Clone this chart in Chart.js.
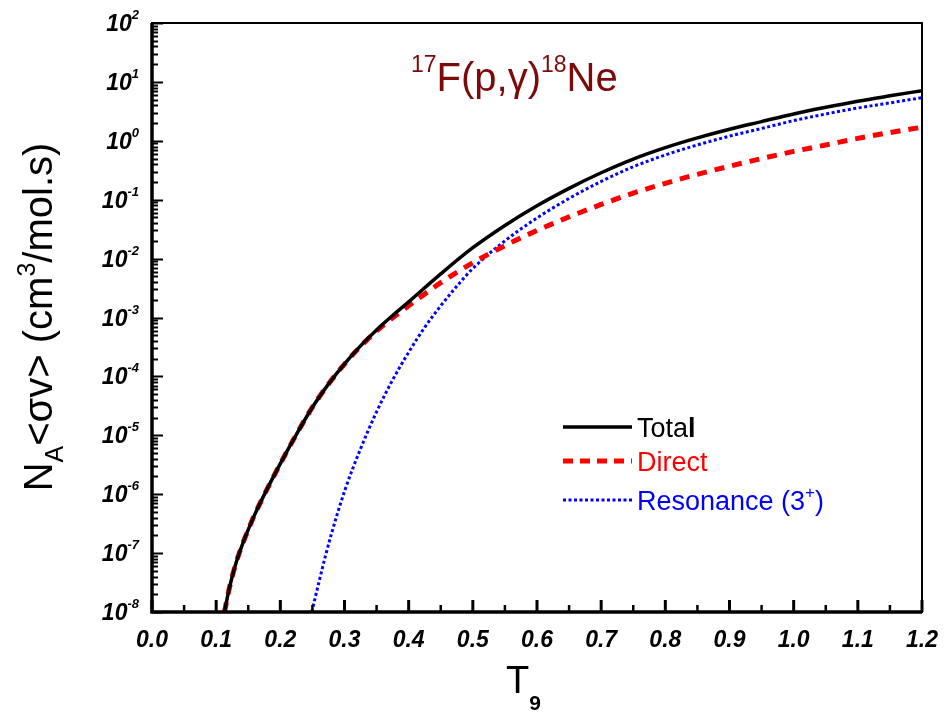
<!DOCTYPE html>
<html>
<head>
<meta charset="utf-8">
<script src="https://cdn.jsdelivr.net/npm/chart.js@4/dist/chart.umd.min.js"></script>
<style>
  html, body { margin: 0; padding: 0; background: #fff; }
  canvas { display: block; }
</style>
</head>
<body>
<canvas id="rateChart" width="945" height="713"></canvas>
<script>
// ===== DATA =====
const totalT = [0.113, 0.12, 0.13, 0.14, 0.15, 0.16, 0.18, 0.2, 0.22, 0.25, 0.275, 0.3, 0.325, 0.35, 0.375, 0.4, 0.45, 0.5, 0.55, 0.6, 0.65, 0.7, 0.75, 0.8, 0.85, 0.9, 0.95, 1.0, 1.05, 1.1, 1.15, 1.2];
const totalRate = [1e-8, 2.4e-8, 6.3e-8, 1.32e-7, 2.5e-7, 4.5e-7, 1.26e-6, 3.3e-6, 8.3e-6, 3.0e-5, 7.4e-5, 1.63e-4, 3.3e-4, 6.15e-4, 1.08e-3, 1.84e-3, 5.5e-3, 1.53e-2, 3.66e-2, 7.9e-2, 0.156, 0.287, 0.49, 0.765, 1.12, 1.57, 2.12, 2.86, 3.7, 4.7, 5.8, 7.1];

const directT = [0.113, 0.12, 0.13, 0.14, 0.15, 0.16, 0.18, 0.2, 0.22, 0.25, 0.275, 0.3, 0.325, 0.35, 0.375, 0.4, 0.45, 0.5, 0.55, 0.6, 0.65, 0.7, 0.75, 0.8, 0.85, 0.9, 0.95, 1.0, 1.05, 1.1, 1.15, 1.2];
const directRate = [1e-8, 2.4e-8, 6.3e-8, 1.32e-7, 2.5e-7, 4.5e-7, 1.26e-6, 3.3e-6, 8.3e-6, 3.0e-5, 7.4e-5, 1.62e-4, 3.24e-4, 5.9e-4, 9.9e-4, 1.58e-3, 3.9e-3, 8.5e-3, 1.66e-2, 3.0e-2, 5.1e-2, 8.3e-2, 0.129, 0.19, 0.27, 0.37, 0.5, 0.66, 0.85, 1.1, 1.38, 1.7];

const resT = [0.249, 0.26, 0.27, 0.28, 0.3, 0.325, 0.35, 0.375, 0.4, 0.425, 0.45, 0.475, 0.5, 0.55, 0.6, 0.65, 0.7, 0.75, 0.8, 0.85, 0.9, 0.95, 1.0, 1.05, 1.1, 1.15, 1.2];
const resRate = [1e-8, 3.16e-8, 8.7e-8, 2.19e-7, 1.12e-6, 5.9e-6, 2.5e-5, 8.7e-5, 2.57e-4, 6.8e-4, 1.58e-3, 3.4e-3, 6.8e-3, 2.0e-2, 4.9e-2, 0.105, 0.204, 0.363, 0.575, 0.85, 1.2, 1.62, 2.2, 2.85, 3.6, 4.4, 5.4];

const xTicks = [0, 0.1, 0.2, 0.3, 0.4, 0.5, 0.6, 0.7, 0.8, 0.9, 1.0, 1.1, 1.2];
const yExponents = [-8, -7, -6, -5, -4, -3, -2, -1, 0, 1, 2];

const toPoints = (xs, ys) => xs.map((x, i) => ({ x: x, y: ys[i] }));

const FONT = "'Liberation Sans', Arial, sans-serif";

// ===== FRAME, TICKS, TITLES, LEGEND =====
const decorPlugin = {
  id: "decor",
  afterDraw(chart) {
    const ctx = chart.ctx;
    const a = chart.chartArea;
    const xs = chart.scales.x;
    const ys = chart.scales.y;
    ctx.save();
    ctx.strokeStyle = "#000";

    // rich text helpers
    const runsWidth = runs => runs.reduce((w, r) => { ctx.font = r.font; return w + ctx.measureText(r.t).width; }, 0);
    const drawRuns = (runs, x, y) => {
      runs.forEach(r => {
        ctx.font = r.font;
        ctx.fillText(r.t, x, y + (r.dy || 0));
        x += ctx.measureText(r.t).width;
      });
    };
    ctx.textBaseline = "alphabetic";
    ctx.textAlign = "left";

    // inward tick marks + y labels
    ctx.lineWidth = 2;
    yExponents.forEach(e => {
      for (let m = 1; m <= 9; m++) {
        const v = m * Math.pow(10, e);
        if (v > 100) break;
        const py = Math.round(ys.getPixelForValue(v)) + 0.5;
        const len = m === 1 ? 11 : 6;
        ctx.beginPath();
        ctx.moveTo(a.left, py);
        ctx.lineTo(a.left + len, py);
        ctx.stroke();
      }
      const pt = ys.getPixelForValue(Math.pow(10, e));
      const runs = [
        { t: "10", font: "italic bold 23px " + FONT, dy: 8 },
        { t: String(e), font: "italic bold 13px " + FONT, dy: -4 }
      ];
      ctx.fillStyle = "#000";
      drawRuns(runs, 139 - runsWidth(runs), pt);
    });
    xTicks.forEach((t, i) => {
      const px = xs.getPixelForValue(t);
      ctx.lineWidth = 3;
      ctx.beginPath();
      ctx.moveTo(px, a.bottom);
      ctx.lineTo(px, a.bottom - 12);
      ctx.stroke();
      if (i < xTicks.length - 1) {
        const pm = xs.getPixelForValue(t + 0.05);
        ctx.lineWidth = 2.5;
        ctx.beginPath();
        ctx.moveTo(pm, a.bottom);
        ctx.lineTo(pm, a.bottom - 7);
        ctx.stroke();
      }
    });

    // box
    ctx.lineWidth = 2;
    ctx.strokeRect(a.left, a.top, a.right - a.left, a.bottom - a.top);
    ctx.lineWidth = 3.5;
    ctx.beginPath();
    ctx.moveTo(a.left, a.top);
    ctx.lineTo(a.left, a.bottom);
    ctx.lineTo(a.right, a.bottom);
    ctx.stroke();

    // reaction label
    ctx.fillStyle = "#7d0a0a";
    drawRuns([
      { t: "17", font: "23px " + FONT, dy: -19 },
      { t: "F(p,\u03b3)", font: "40px " + FONT },
      { t: "18", font: "23px " + FONT, dy: -19 },
      { t: "Ne", font: "40px " + FONT }
    ], 411, 91);

    // x title
    ctx.fillStyle = "#000";
    drawRuns([
      { t: "T", font: "38px " + FONT },
      { t: "9", font: "bold 21px " + FONT, dy: 17 }
    ], 506, 693);

    // y title (rotated)
    const yRuns = [
      { t: "N", font: "40px " + FONT },
      { t: "A", font: "25px " + FONT, dy: 11 },
      { t: "<\u03c3v> (cm", font: "40px " + FONT },
      { t: "3", font: "25px " + FONT, dy: -17 },
      { t: "/mol.s)", font: "40px " + FONT }
    ];
    ctx.save();
    ctx.translate(52, 317);
    ctx.rotate(-Math.PI / 2);
    drawRuns(yRuns, -runsWidth(yRuns) / 2, 0);
    ctx.restore();

    // legend
    const legend = [
      { label: [{ t: "Tota", font: "27px " + FONT }, { t: "l", font: "bold 27px " + FONT }], color: "#000", dash: [], width: 3.5, y: 427 },
      { label: [{ t: "Direct", font: "27px " + FONT }], color: "#ff0000", dash: [10, 7], width: 5, y: 461 },
      { label: [{ t: "Resonance (3", font: "27px " + FONT }, { t: "+", font: "17px " + FONT, dy: -12 }, { t: ")", font: "27px " + FONT }], color: "#0000ff", dash: [3, 2.5], width: 3, y: 500 }
    ];
    legend.forEach(l => {
      ctx.strokeStyle = l.color;
      ctx.lineWidth = l.width;
      ctx.setLineDash(l.dash);
      ctx.beginPath();
      ctx.moveTo(563, l.y);
      ctx.lineTo(632, l.y);
      ctx.stroke();
      ctx.setLineDash([]);
      ctx.fillStyle = l.color;
      drawRuns(l.label, 637, l.y + 10);
    });

    ctx.restore();
  }
};

// ===== CHART =====
const rateChart = new Chart(
  document.getElementById("rateChart"),
  {
    type: "line",
    data: {
      datasets: [
        {
          label: "Total",
          data: toPoints(totalT, totalRate),
          borderColor: "#000000",
          borderWidth: 3.5,
          pointRadius: 0,
          cubicInterpolationMode: "monotone"
        },
        {
          label: "Direct",
          data: toPoints(directT, directRate),
          borderColor: "#ff0000",
          borderWidth: 5,
          borderDash: [10, 8],
          pointRadius: 0,
          cubicInterpolationMode: "monotone"
        },
        {
          label: "Resonance (3+)",
          data: toPoints(resT, resRate),
          borderColor: "#0000ff",
          borderWidth: 3,
          borderDash: [3, 2.5],
          pointRadius: 0,
          cubicInterpolationMode: "monotone"
        }
      ]
    },
    options: {
      responsive: false,
      animation: false,
      layout: { padding: { top: 23, right: 23, left: 0, bottom: 0 } },
      plugins: {
        legend: { display: false },
        tooltip: { enabled: false }
      },
      scales: {
        x: {
          type: "linear",
          min: 0,
          max: 1.2,
          grid: { display: false },
          border: { display: false },
          afterBuildTicks: scale => { scale.ticks = xTicks.map(v => ({ value: v })); },
          afterFit: scale => { scale.height = 101; },
          ticks: {
            padding: 7,
            color: "#000",
            font: { family: FONT, size: 23, weight: "bold", style: "italic" },
            callback: v => Number(v).toFixed(1)
          }
        },
        y: {
          type: "logarithmic",
          min: 1e-8,
          max: 100,
          grid: { display: false },
          border: { display: false },
          afterBuildTicks: scale => { scale.ticks = yExponents.map(e => ({ value: Math.pow(10, e) })); },
          afterFit: scale => { scale.width = 152; },
          ticks: { display: false }
        }
      }
    },
    plugins: [decorPlugin]
  }
);
</script>
</body>
</html>
